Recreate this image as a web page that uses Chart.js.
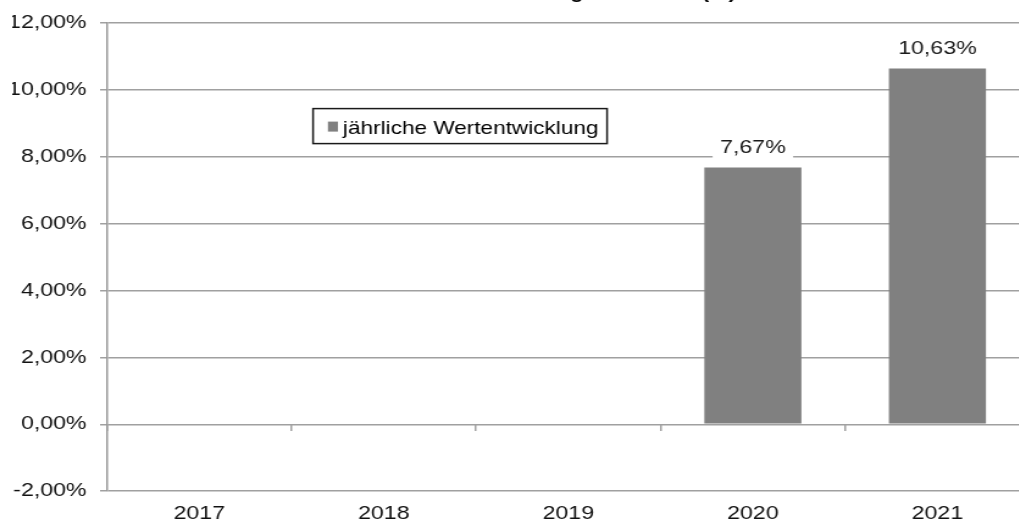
<!DOCTYPE html>
<html><head><meta charset="utf-8">
<script src="https://cdn.jsdelivr.net/npm/chart.js@4"></script>
<style>
html,body{margin:0;padding:0;overflow:hidden;background:#fff;width:1019px;height:522px;}
#wrap{position:absolute;left:0;top:-30px;width:844px;height:566px;transform:scaleX(1.22);transform-origin:0 0;}
</style></head><body>
<div id="wrap"><canvas id="c" width="844" height="566"></canvas></div>
<script>
const categories = ['2017', '2018', '2019', '2020', '2021'];
const annualReturn = [null, null, null, 7.67, 10.63];
const seriesLabel = 'jährliche Wertentwicklung';
const chartTitle = 'Jährliche Wertentwicklung in Prozent (%)';
const yMin = -2, yMax = 12, yStep = 2;

const FONT = '"Liberation Sans", Arial, sans-serif';
const fmt = v => v.toFixed(2).replace('.', ',') + '%';

const valueLabels = {
  id: 'valueLabels',
  afterDatasetsDraw(chart) {
    const ctx = chart.ctx;
    const ds = chart.data.datasets[0];
    chart.getDatasetMeta(0).data.forEach((bar, i) => {
      const v = ds.data[i];
      if (v == null) return;
      ctx.save();
      ctx.fillStyle = '#fff';
      ctx.fillRect(bar.x - 33, bar.y - 36, 66, 28);
      ctx.font = '19px ' + FONT;
      ctx.fillStyle = '#1a1a1a';
      ctx.textAlign = 'center';
      ctx.textBaseline = 'alphabetic';
      ctx.fillText(fmt(v), bar.x, bar.y - 14.5);
      ctx.restore();
    });
  }
};

const boxLegend = {
  id: 'boxLegend',
  afterDraw(chart) {
    const ctx = chart.ctx, ca = chart.chartArea;
    const ds = chart.data.datasets[0];
    const x = ca.left + 168.9, y = ca.top + 86;
    ctx.save();
    ctx.fillStyle = '#fff';
    ctx.fillRect(x, y, 241, 35);
    ctx.strokeStyle = '#1a1a1a';
    ctx.lineWidth = 1.5;
    ctx.strokeRect(x, y, 241, 35);
    ctx.fillStyle = ds.backgroundColor;
    ctx.fillRect(ca.left + 181.1, ca.top + 99, 8.2, 10);
    ctx.font = '18.5px ' + FONT;
    ctx.fillStyle = '#000';
    ctx.textAlign = 'left';
    ctx.textBaseline = 'alphabetic';
    ctx.fillText(ds.label, ca.left + 193.4, ca.top + 111);
    ctx.restore();
  }
};

new Chart(document.getElementById('c'), {
  type: 'bar',
  data: {
    labels: categories,
    datasets: [{
      label: seriesLabel,
      data: annualReturn,
      backgroundColor: '#808080',
      borderWidth: 0,
      categoryPercentage: 1,
      barPercentage: 0.526,
      xAxisID: 'x',
      yAxisID: 'y'
    }]
  },
  options: {
    responsive: false,
    animation: false,
    devicePixelRatio: 1,
    layout: { padding: { left: 10, right: 0, top: 0, bottom: 0 } },
    plugins: {
      legend: { display: false },
      tooltip: { enabled: false },
      title: {
        display: true,
        text: chartTitle,
        color: '#000',
        font: { family: FONT, size: 18, weight: 'bold' },
        padding: { top: 12.5, bottom: 18.5 }
      }
    },
    scales: {
      x: {
        type: 'category',
        offset: true,
        grid: { display: false, drawTicks: false },
        border: { display: false },
        ticks: { color: '#111', font: { family: FONT, size: 19 }, padding: 11, maxRotation: 0 }
      },
      x2: {
        type: 'category',
        labels: categories,
        position: { y: 0 },
        offset: true,
        grid: { offset: true, drawOnChartArea: false, drawTicks: true, tickLength: 7, color: '#a0a0a0', lineWidth: 1.5 },
        border: { display: false },
        ticks: { display: false }
      },
      y: {
        min: yMin,
        max: yMax,
        afterFit: s => { s.width = 77.7; },
        ticks: {
          stepSize: yStep,
          color: '#111',
          font: { family: FONT, size: 19 },
          padding: 11,
          callback: v => fmt(v)
        },
        grid: { color: '#a0a0a0', lineWidth: 1.5, tickLength: 5.7 },
        border: { display: true, color: '#999', width: 1.5 }
      }
    }
  },
  plugins: [valueLabels, boxLegend]
});
</script>
</body></html>
